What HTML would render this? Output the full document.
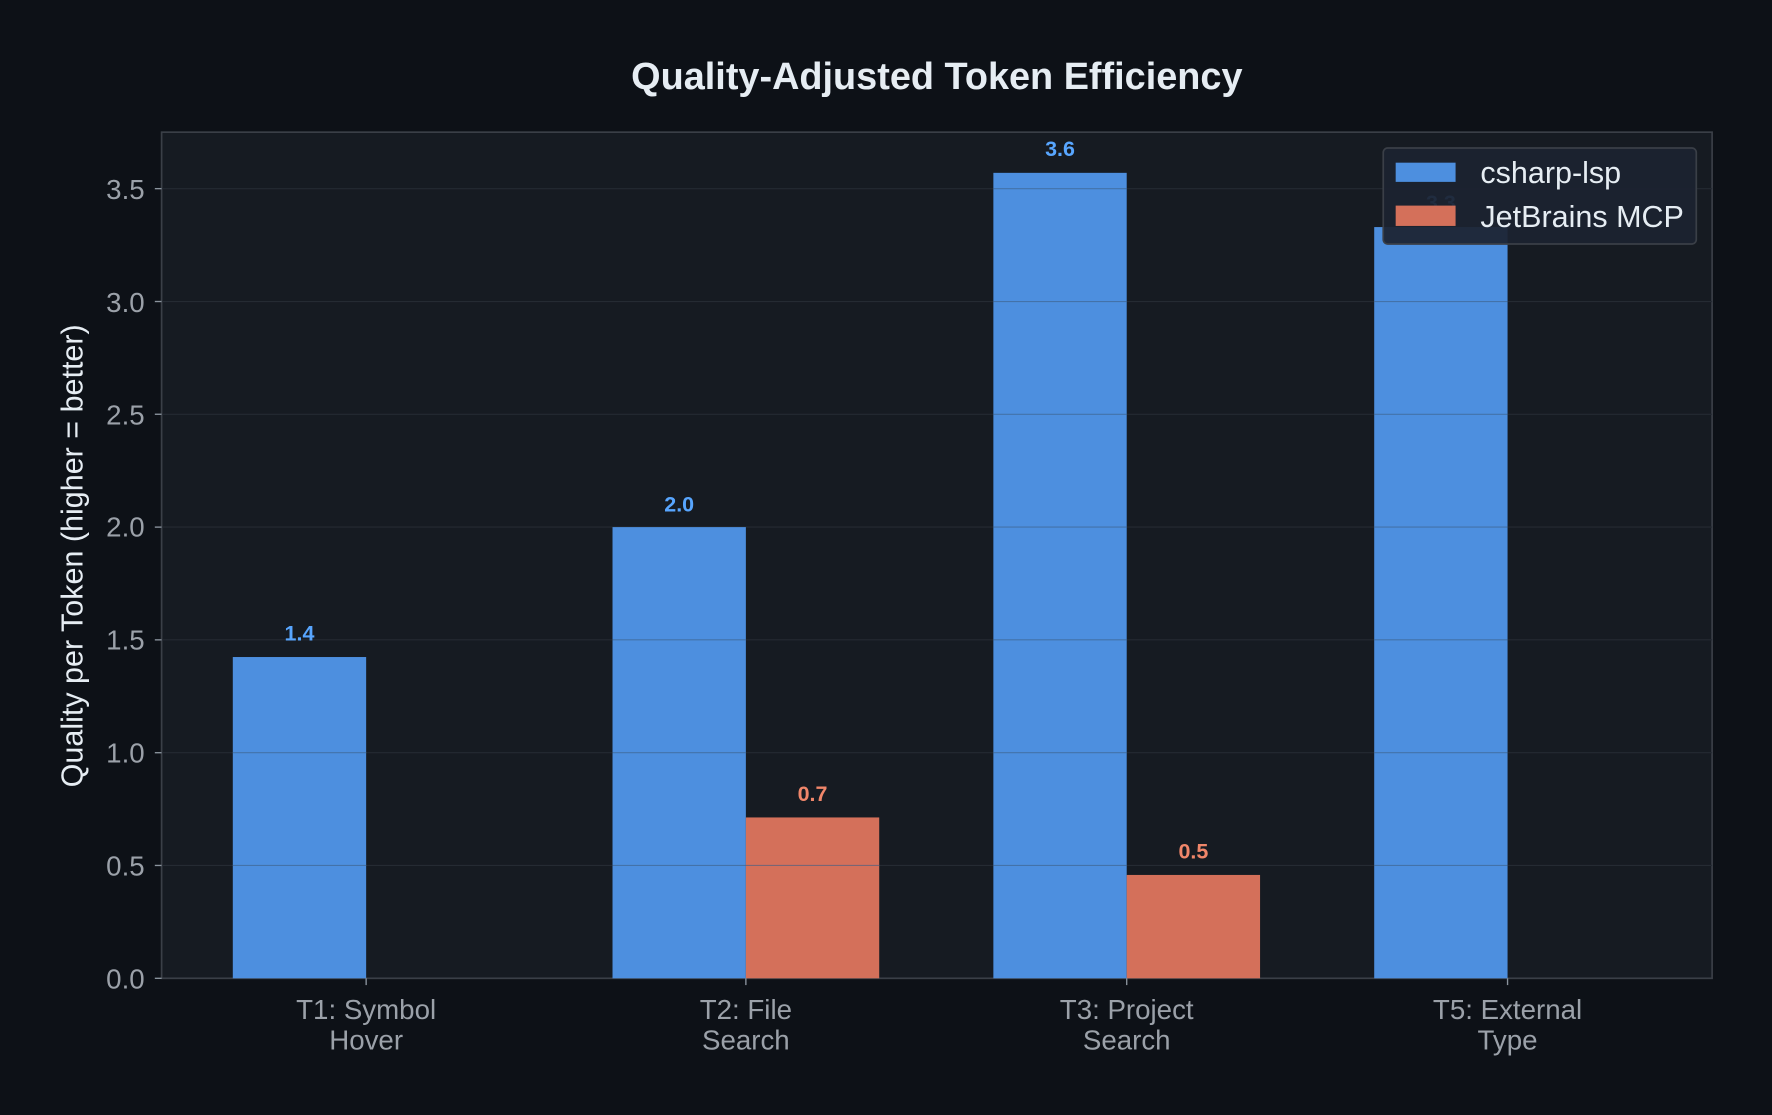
<!DOCTYPE html>
<html><head><meta charset="utf-8"><style>
html,body{margin:0;padding:0;background:#0d1117;}
svg{display:block;}
text{font-family:"Liberation Sans",Arial,sans-serif;}
</style></head><body>
<svg width="1772" height="1115" viewBox="0 0 1568 987" preserveAspectRatio="none" xmlns="http://www.w3.org/2000/svg">
<rect x="0" y="0" width="1568" height="987" fill="#0d1117"/>
<text x="829" y="79" text-anchor="middle" font-size="33.5" font-weight="bold" fill="#e6edf3">Quality-Adjusted Token Efficiency</text>
<rect x="143" y="117" width="1372" height="749" fill="#161b22" stroke="#3a3f47" stroke-width="1.5"/>
<g stroke="#252b33" stroke-width="1">
<line x1="143" x2="1515" y1="766.1" y2="766.1"/>
<line x1="143" x2="1515" y1="666.3" y2="666.3"/>
<line x1="143" x2="1515" y1="566.4" y2="566.4"/>
<line x1="143" x2="1515" y1="466.6" y2="466.6"/>
<line x1="143" x2="1515" y1="366.7" y2="366.7"/>
<line x1="143" x2="1515" y1="266.9" y2="266.9"/>
<line x1="143" x2="1515" y1="167" y2="167"/>
</g>
<g fill="#4d8fdf">
<rect x="206" y="581.6" width="118" height="284.4"/>
<rect x="542" y="466.6" width="118" height="399.4"/>
<rect x="879" y="153" width="118" height="713"/>
<rect x="1216" y="201" width="118" height="665"/>
</g>
<g fill="#d4705a">
<rect x="660" y="723.6" width="118" height="142.4"/>
<rect x="997" y="774.5" width="118" height="91.5"/>
</g>
<g stroke="#3d5f86" stroke-width="1" opacity="0.6">
<line x1="206" x2="324" y1="766.1" y2="766.1"/><line x1="206" x2="324" y1="666.3" y2="666.3"/>
<line x1="542" x2="778" y1="766.1" y2="766.1"/><line x1="542" x2="660" y1="666.3" y2="666.3"/><line x1="542" x2="660" y1="566.4" y2="566.4"/>
<line x1="879" x2="997" y1="766.1" y2="766.1"/><line x1="879" x2="997" y1="666.3" y2="666.3"/><line x1="879" x2="997" y1="566.4" y2="566.4"/><line x1="879" x2="997" y1="466.6" y2="466.6"/><line x1="879" x2="997" y1="366.7" y2="366.7"/><line x1="879" x2="997" y1="266.9" y2="266.9"/><line x1="879" x2="997" y1="167" y2="167"/>
<line x1="1216" x2="1334" y1="766.1" y2="766.1"/><line x1="1216" x2="1334" y1="666.3" y2="666.3"/><line x1="1216" x2="1334" y1="566.4" y2="566.4"/><line x1="1216" x2="1334" y1="466.6" y2="466.6"/><line x1="1216" x2="1334" y1="366.7" y2="366.7"/><line x1="1216" x2="1334" y1="266.9" y2="266.9"/>
</g>
<g font-size="19" font-weight="bold" text-anchor="middle">
<text x="265" y="567" fill="#58a6ff">1.4</text>
<text x="601" y="453" fill="#58a6ff">2.0</text>
<text x="938" y="138" fill="#58a6ff">3.6</text>
<text x="1275" y="186" fill="#58a6ff">3.3</text>
<text x="719" y="709" fill="#f0866a">0.7</text>
<text x="1056" y="760" fill="#f0866a">0.5</text>
</g>
<g stroke="#8b949e" stroke-width="1.2">
<line x1="137" x2="143" y1="866" y2="866"/><line x1="137" x2="143" y1="766.1" y2="766.1"/><line x1="137" x2="143" y1="666.3" y2="666.3"/><line x1="137" x2="143" y1="566.4" y2="566.4"/><line x1="137" x2="143" y1="466.6" y2="466.6"/><line x1="137" x2="143" y1="366.7" y2="366.7"/><line x1="137" x2="143" y1="266.9" y2="266.9"/><line x1="137" x2="143" y1="167" y2="167"/>
<line x1="324" x2="324" y1="866" y2="872"/><line x1="660" x2="660" y1="866" y2="872"/><line x1="997" x2="997" y1="866" y2="872"/><line x1="1334" x2="1334" y1="866" y2="872"/>
</g>
<g font-size="24.5" fill="#9ba1a9" text-anchor="end">
<text x="128" y="875">0.0</text><text x="128" y="775">0.5</text><text x="128" y="675">1.0</text><text x="128" y="575">1.5</text><text x="128" y="475">2.0</text><text x="128" y="376">2.5</text><text x="128" y="276">3.0</text><text x="128" y="176">3.5</text>
</g>
<g font-size="24.5" fill="#9ba1a9" text-anchor="middle">
<text x="324" y="902">T1: Symbol</text><text x="324" y="929">Hover</text>
<text x="660" y="902">T2: File</text><text x="660" y="929">Search</text>
<text x="997" y="902">T3: Project</text><text x="997" y="929">Search</text>
<text x="1334" y="902">T5: External</text><text x="1334" y="929">Type</text>
</g>
<text transform="translate(73,492) rotate(-90)" text-anchor="middle" font-size="27" fill="#e6edf3">Quality per Token (higher = better)</text>
<rect x="1224" y="131" width="277" height="85" rx="4" fill="#1c2230" fill-opacity="0.93" stroke="#3a3f47" stroke-width="1.5"/>
<rect x="1235" y="144" width="53" height="17" fill="#4d8fdf"/>
<rect x="1235" y="182" width="53" height="18" fill="#d4705a"/>
<text x="1310" y="162" font-size="27" fill="#e6edf3">csharp-lsp</text>
<text x="1310" y="201" font-size="27" fill="#e6edf3">JetBrains MCP</text>
</svg>
</body></html>
